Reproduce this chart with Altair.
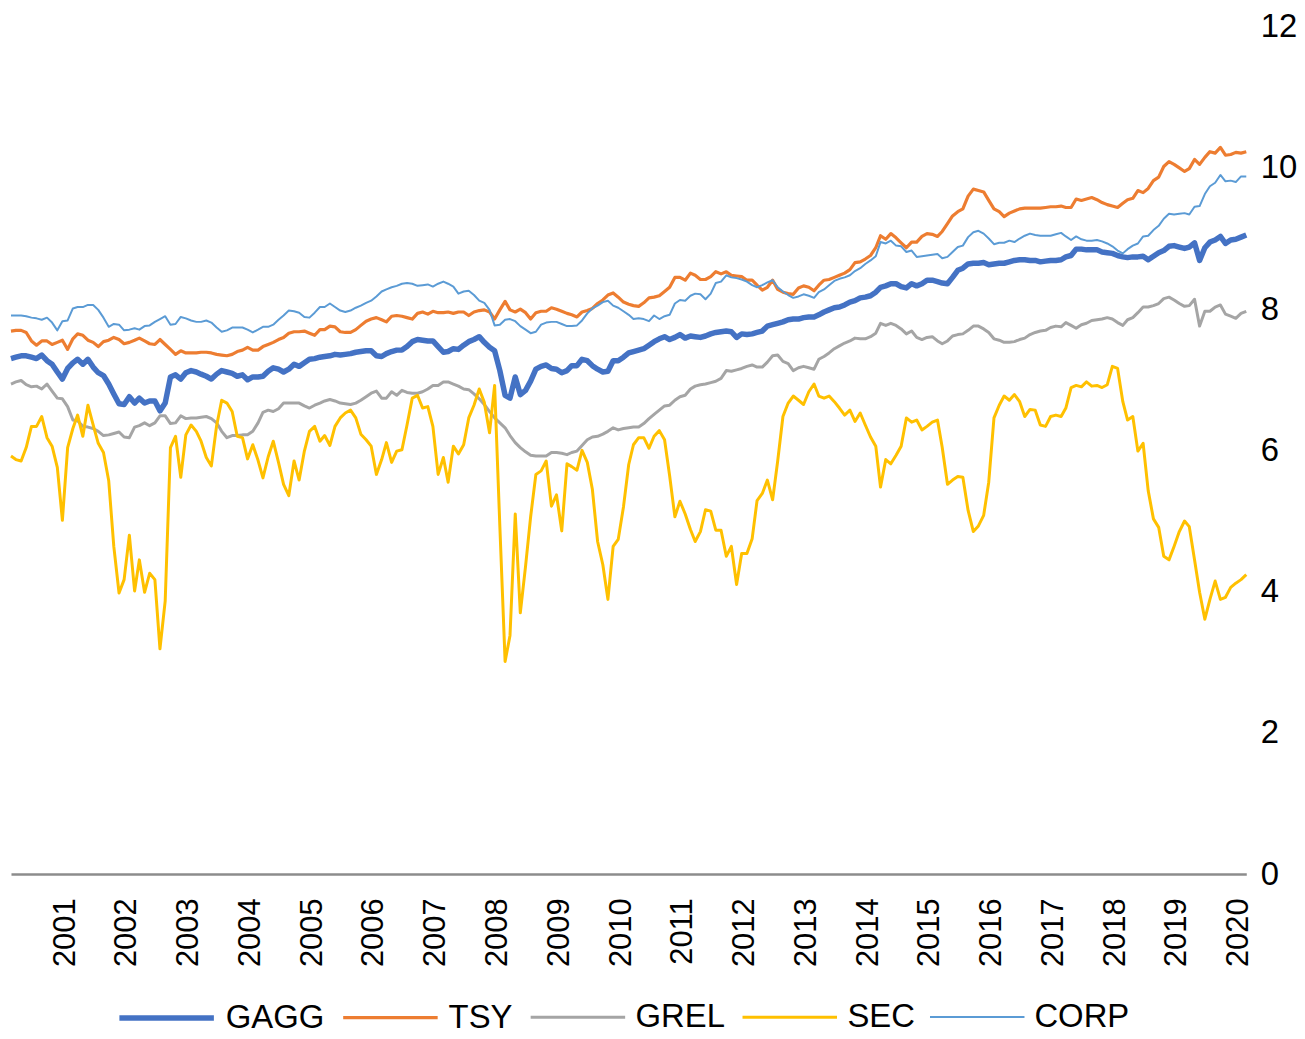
import altair as alt
import pandas as pd

SERIES = ["GAGG", "TSY", "GREL", "SEC", "CORP"]
COLORS = ["#4472C4", "#ED7D31", "#A5A5A5", "#FFC000", "#5B9BD5"]
WIDTHS = [5.5, 3.2, 3.0, 3.0, 2.0]
YEAR_TICKS = list(range(2001, 2021))
Y_TICKS = [0, 2, 4, 6, 8, 10, 12]
FIRST_MONTH = "2000-02-01"  # monthly observations, Feb 2000 .. Feb 2020

GAGG = [
    7.30, 7.32, 7.34, 7.34, 7.32, 7.30, 7.35, 7.27, 7.22, 7.11, 7.01, 7.16,
    7.24, 7.29, 7.22, 7.29, 7.18, 7.10, 7.06, 6.94, 6.80, 6.66, 6.65, 6.76,
    6.67, 6.74, 6.67, 6.70, 6.70, 6.56, 6.67, 7.04, 7.07, 7.01, 7.10, 7.13,
    7.11, 7.08, 7.05, 7.01, 7.08, 7.13, 7.11, 7.09, 7.05, 7.07, 7.00, 7.04,
    7.04, 7.05, 7.12, 7.17, 7.15, 7.11, 7.15, 7.22, 7.19, 7.24, 7.29, 7.30,
    7.32, 7.33, 7.34, 7.36, 7.35, 7.36, 7.37, 7.39, 7.40, 7.41, 7.41, 7.34,
    7.33, 7.37, 7.40, 7.42, 7.42, 7.47, 7.54, 7.57, 7.56, 7.55, 7.55, 7.47,
    7.39, 7.40, 7.44, 7.43, 7.49, 7.54, 7.57, 7.61, 7.53, 7.46, 7.41, 7.13,
    6.78, 6.74, 7.04, 6.79, 6.85, 6.98, 7.15, 7.19, 7.21, 7.16, 7.15, 7.10,
    7.13, 7.20, 7.20, 7.29, 7.27, 7.20, 7.15, 7.11, 7.12, 7.27, 7.27, 7.32,
    7.38, 7.40, 7.42, 7.44, 7.49, 7.54, 7.58, 7.61, 7.57, 7.60, 7.64, 7.59,
    7.62, 7.61, 7.60, 7.62, 7.65, 7.67, 7.68, 7.69, 7.68, 7.60, 7.65, 7.64,
    7.65, 7.67, 7.69, 7.76, 7.78, 7.80, 7.82, 7.85, 7.86, 7.86, 7.88, 7.89,
    7.89, 7.92, 7.96, 7.99, 8.02, 8.03, 8.06, 8.10, 8.12, 8.16, 8.17, 8.19,
    8.24, 8.31, 8.33, 8.36, 8.36, 8.32, 8.30, 8.36, 8.33, 8.36, 8.41, 8.41,
    8.39, 8.37, 8.36, 8.45, 8.55, 8.58, 8.64, 8.65, 8.65, 8.66, 8.63, 8.64,
    8.65, 8.65, 8.67, 8.69, 8.70, 8.70, 8.69, 8.69, 8.67, 8.68, 8.69, 8.69,
    8.70, 8.74, 8.76, 8.85, 8.85, 8.84, 8.84, 8.84, 8.81, 8.80, 8.79, 8.76,
    8.74, 8.73, 8.74, 8.74, 8.75, 8.70, 8.75, 8.80, 8.83, 8.89, 8.90, 8.88,
    8.86, 8.88, 8.94, 8.69, 8.87, 8.95, 8.98, 9.03, 8.93, 8.98, 8.99, 9.02,
    9.05,
]

TSY = [
    7.69, 7.70, 7.70, 7.67, 7.55, 7.49, 7.55, 7.55, 7.50, 7.53, 7.56, 7.43,
    7.58, 7.65, 7.63, 7.56, 7.53, 7.47, 7.54, 7.56, 7.60, 7.57, 7.51, 7.53,
    7.56, 7.59, 7.55, 7.51, 7.50, 7.57, 7.50, 7.43, 7.36, 7.41, 7.38, 7.38,
    7.38, 7.39, 7.39, 7.38, 7.36, 7.35, 7.34, 7.36, 7.40, 7.42, 7.46, 7.42,
    7.42, 7.47, 7.50, 7.53, 7.57, 7.60, 7.66, 7.68, 7.68, 7.69, 7.66, 7.63,
    7.71, 7.71, 7.76, 7.75, 7.68, 7.67, 7.67, 7.71, 7.77, 7.83, 7.86, 7.88,
    7.85, 7.82, 7.90, 7.91, 7.90, 7.88, 7.86, 7.94, 7.96, 7.93, 7.97, 7.95,
    7.95, 7.96, 7.94, 7.96, 7.96, 7.91, 7.96, 7.98, 7.99, 7.96, 7.86, 7.99,
    8.11, 7.99, 7.96, 8.00, 7.95, 7.86, 7.95, 7.97, 7.97, 8.02, 8.00, 7.97,
    7.94, 7.92, 7.89, 7.96, 7.98, 8.01, 8.08, 8.13, 8.20, 8.23, 8.17, 8.10,
    8.07, 8.05, 8.04, 8.09, 8.16, 8.17, 8.19, 8.25, 8.31, 8.45, 8.45, 8.41,
    8.51, 8.48, 8.42, 8.42, 8.46, 8.53, 8.50, 8.53, 8.48, 8.47, 8.46, 8.41,
    8.41, 8.34, 8.27, 8.31, 8.41, 8.28, 8.24, 8.22, 8.21, 8.30, 8.33, 8.31,
    8.26, 8.34, 8.41, 8.42, 8.45, 8.48, 8.51, 8.56, 8.66, 8.67, 8.71, 8.76,
    8.87, 9.04, 8.99, 9.07, 9.01, 8.94, 8.87, 8.95, 8.95, 9.03, 9.07, 9.06,
    9.03, 9.10, 9.21, 9.32, 9.38, 9.42, 9.60, 9.70, 9.68, 9.66, 9.54, 9.42,
    9.38, 9.31, 9.36, 9.39, 9.42, 9.43, 9.43, 9.43, 9.43, 9.44, 9.45, 9.45,
    9.46, 9.44, 9.44, 9.56, 9.54, 9.56, 9.58, 9.55, 9.51, 9.48, 9.46, 9.44,
    9.50, 9.55, 9.57, 9.68, 9.65, 9.71, 9.82, 9.87, 10.02, 10.09, 10.05, 10.00,
    9.95, 9.99, 10.12, 10.05, 10.15, 10.23, 10.21, 10.29, 10.18, 10.19, 10.22, 10.21,
    10.23,
]

GREL = [
    6.94, 6.97, 6.99, 6.93, 6.90, 6.91, 6.87, 6.94, 6.84, 6.74, 6.73, 6.62,
    6.43, 6.42, 6.34, 6.33, 6.31, 6.27, 6.21, 6.22, 6.24, 6.26, 6.19, 6.18,
    6.33, 6.35, 6.39, 6.35, 6.39, 6.49, 6.49, 6.38, 6.39, 6.49, 6.45, 6.46,
    6.46, 6.47, 6.48, 6.45, 6.39, 6.27, 6.18, 6.21, 6.21, 6.22, 6.22, 6.27,
    6.39, 6.54, 6.57, 6.55, 6.59, 6.67, 6.67, 6.67, 6.67, 6.63, 6.60, 6.64,
    6.67, 6.70, 6.72, 6.70, 6.67, 6.66, 6.65, 6.67, 6.71, 6.76, 6.81, 6.84,
    6.74, 6.74, 6.83, 6.78, 6.85, 6.82, 6.81, 6.81, 6.83, 6.87, 6.92, 6.92,
    6.97, 6.97, 6.94, 6.91, 6.87, 6.86, 6.80, 6.73, 6.65, 6.55, 6.46, 6.39,
    6.32, 6.21, 6.11, 6.04, 5.98, 5.93, 5.92, 5.92, 5.92, 5.97, 5.97, 5.96,
    5.94, 5.97, 5.99, 6.07, 6.15, 6.19, 6.20, 6.23, 6.27, 6.32, 6.29, 6.31,
    6.32, 6.33, 6.33, 6.38, 6.45, 6.51, 6.57, 6.63, 6.64, 6.71, 6.76, 6.78,
    6.87, 6.91, 6.93, 6.94, 6.96, 6.98, 7.02, 7.13, 7.12, 7.14, 7.16, 7.19,
    7.21, 7.18, 7.18, 7.25, 7.34, 7.35, 7.26, 7.23, 7.13, 7.17, 7.19, 7.17,
    7.15, 7.29, 7.33, 7.38, 7.44, 7.48, 7.52, 7.55, 7.59, 7.58, 7.58, 7.61,
    7.66, 7.80, 7.77, 7.80, 7.77, 7.72, 7.65, 7.69, 7.60, 7.57, 7.60, 7.61,
    7.55, 7.51, 7.55, 7.62, 7.64, 7.65, 7.70, 7.76, 7.76, 7.72, 7.67, 7.58,
    7.56, 7.53, 7.53, 7.54, 7.57, 7.59, 7.64, 7.67, 7.69, 7.70, 7.74, 7.76,
    7.75, 7.81, 7.77, 7.73, 7.78, 7.80, 7.84, 7.85, 7.86, 7.88, 7.86, 7.81,
    7.77, 7.85, 7.88, 7.95, 8.03, 8.03, 8.05, 8.08, 8.15, 8.17, 8.13, 8.08,
    8.04, 8.05, 8.14, 7.76, 7.97, 7.97, 8.03, 8.06, 7.93, 7.90, 7.87, 7.94,
    7.97,
]

SEC = [
    5.92, 5.87, 5.85, 6.04, 6.34, 6.34, 6.48, 6.18, 6.06, 5.76, 5.01, 6.04,
    6.31, 6.50, 6.20, 6.64, 6.36, 6.10, 5.97, 5.57, 4.64, 3.98, 4.17, 4.80,
    4.01, 4.45, 3.99, 4.26, 4.17, 3.19, 3.87, 6.04, 6.20, 5.62, 6.22, 6.36,
    6.27, 6.13, 5.90, 5.78, 6.35, 6.71, 6.67, 6.55, 6.20, 6.18, 5.88, 6.08,
    5.86, 5.61, 5.91, 6.13, 5.83, 5.52, 5.36, 5.85, 5.58, 5.99, 6.27, 6.34,
    6.13, 6.21, 6.07, 6.34, 6.46, 6.53, 6.57, 6.46, 6.23, 6.15, 6.06, 5.66,
    5.87, 6.11, 5.83, 5.99, 6.01, 6.36, 6.74, 6.78, 6.60, 6.62, 6.34, 5.66,
    5.90, 5.55, 6.06, 5.95, 6.08, 6.46, 6.64, 6.87, 6.68, 6.25, 6.92, 4.92,
    3.01, 3.38, 5.10, 3.70, 4.36, 5.06, 5.66, 5.71, 5.85, 5.21, 5.37, 4.86,
    5.81, 5.77, 5.72, 6.00, 5.83, 5.45, 4.71, 4.38, 3.89, 4.64, 4.74, 5.20,
    5.80, 6.08, 6.18, 6.18, 6.03, 6.20, 6.28, 6.15, 5.64, 5.06, 5.28, 5.10,
    4.88, 4.71, 4.85, 5.16, 5.14, 4.87, 4.87, 4.50, 4.64, 4.10, 4.54, 4.54,
    4.75, 5.29, 5.39, 5.58, 5.30, 5.85, 6.48, 6.67, 6.77, 6.71, 6.65, 6.83,
    6.94, 6.77, 6.74, 6.77, 6.69, 6.60, 6.50, 6.57, 6.41, 6.53, 6.36, 6.19,
    6.06, 5.48, 5.87, 5.81, 5.93, 6.06, 6.46, 6.40, 6.43, 6.29, 6.34, 6.40,
    6.43, 6.04, 5.52, 5.58, 5.63, 5.62, 5.15, 4.85, 4.93, 5.08, 5.55, 6.46,
    6.64, 6.77, 6.71, 6.79, 6.69, 6.48, 6.58, 6.57, 6.36, 6.34, 6.48, 6.50,
    6.48, 6.60, 6.89, 6.92, 6.90, 6.97, 6.91, 6.92, 6.89, 6.93, 7.19, 7.16,
    6.69, 6.43, 6.48, 5.99, 6.10, 5.43, 5.03, 4.91, 4.50, 4.45, 4.64, 4.85,
    5.00, 4.92, 4.45, 3.99, 3.61, 3.89, 4.15, 3.89, 3.92, 4.06, 4.12, 4.17,
    4.24,
]

CORP = [
    7.91, 7.91, 7.91, 7.90, 7.88, 7.87, 7.85, 7.88, 7.81, 7.70, 7.83, 7.84,
    8.01, 8.03, 8.03, 8.06, 8.06, 7.99, 7.88, 7.75, 7.79, 7.78, 7.70, 7.71,
    7.73, 7.71, 7.76, 7.77, 7.82, 7.86, 7.90, 7.78, 7.79, 7.89, 7.87, 7.84,
    7.82, 7.82, 7.84, 7.81, 7.74, 7.68, 7.70, 7.74, 7.74, 7.74, 7.71, 7.67,
    7.71, 7.75, 7.75, 7.78, 7.85, 7.91, 7.98, 7.97, 7.95, 7.89, 7.88, 7.95,
    8.03, 8.03, 8.08, 8.03, 7.98, 7.96, 7.98, 8.02, 8.05, 8.09, 8.12, 8.18,
    8.25, 8.28, 8.31, 8.33, 8.36, 8.37, 8.36, 8.33, 8.34, 8.35, 8.32, 8.36,
    8.39, 8.36, 8.32, 8.22, 8.25, 8.26, 8.20, 8.12, 8.09, 7.99, 7.77, 7.78,
    7.85, 7.86, 7.83, 7.76, 7.71, 7.66, 7.68, 7.78, 7.81, 7.82, 7.82, 7.79,
    7.76, 7.76, 7.77, 7.84, 7.94, 8.01, 8.05, 8.10, 8.12, 8.05, 8.02, 7.97,
    7.92, 7.86, 7.87, 7.86, 7.83, 7.91, 7.86, 7.90, 7.92, 8.08, 8.13, 8.12,
    8.19, 8.22, 8.21, 8.14, 8.22, 8.37, 8.39, 8.48, 8.45, 8.44, 8.42, 8.39,
    8.34, 8.31, 8.34, 8.38, 8.41, 8.31, 8.25, 8.20, 8.16, 8.18, 8.21, 8.19,
    8.16, 8.24, 8.28, 8.34, 8.40, 8.43, 8.45, 8.48, 8.54, 8.58, 8.64, 8.69,
    8.75, 8.95, 8.93, 8.97, 8.90, 8.89, 8.81, 8.83, 8.74, 8.75, 8.76, 8.77,
    8.78, 8.72, 8.74, 8.81, 8.88, 8.90, 9.02, 9.09, 9.11, 9.07, 9.00, 8.92,
    8.94, 8.94, 8.97, 8.95, 9.00, 9.04, 9.07, 9.05, 9.04, 9.04, 9.04, 9.06,
    9.08, 9.03, 8.98, 9.03, 8.99, 8.97, 8.97, 8.98, 8.96, 8.93, 8.89, 8.83,
    8.79, 8.85, 8.90, 8.93, 9.03, 9.04, 9.12, 9.18, 9.28, 9.35, 9.34, 9.35,
    9.36, 9.34, 9.45, 9.46, 9.63, 9.74, 9.79, 9.90, 9.81, 9.82, 9.80, 9.88,
    9.88,
]

VALUES = {"GAGG": GAGG, "TSY": TSY, "GREL": GREL, "SEC": SEC, "CORP": CORP}

dates = pd.date_range(FIRST_MONTH, periods=len(GAGG), freq="MS") + pd.Timedelta(days=14)
date_str = [d.strftime("%Y-%m-%dT00:00:00") for d in dates]

rows = []
for name in SERIES:
    for d, v in zip(date_str, VALUES[name]):
        rows.append({"date": d, "series": name, "value": v})
df = pd.DataFrame(rows)

FONT = "Liberation Sans"

legend = alt.Legend(
    title=None,
    orient="none",
    direction="horizontal",
    legendX=106,
    legendY=946,
    symbolType="stroke",
    symbolSize=9025,
    labelFontSize=33,
    labelFont=FONT,
    labelColor="#000000",
    labelOffset=9,
    columnPadding=11,
)

chart = (
    alt.Chart(df)
    .mark_line(strokeJoin="round")
    .encode(
        x=alt.X(
            "date:T",
            title=None,
            scale=alt.Scale(nice=False, padding=0),
            axis=alt.Axis(
                values=[alt.DateTime(year=y, month=1, date=1) for y in YEAR_TICKS],
                format="%Y",
                labelAngle=270,
                labelFontSize=31,
                labelPadding=24,
                labelOverlap=False,
                labelColor="#000000",
                labelFont=FONT,
                ticks=False,
                grid=False,
                domainColor="#8c8c8c",
                domainWidth=2.5,
            ),
        ),
        y=alt.Y(
            "value:Q",
            title=None,
            scale=alt.Scale(domain=[0, 12], nice=False),
            axis=alt.Axis(
                orient="right",
                values=Y_TICKS,
                labelFontSize=33,
                labelPadding=14,
                labelColor="#000000",
                labelFont=FONT,
                ticks=False,
                grid=False,
                domain=False,
            ),
        ),
        color=alt.Color(
            "series:N",
            scale=alt.Scale(domain=SERIES, range=COLORS),
            legend=legend,
        ),
        strokeWidth=alt.StrokeWidth(
            "series:N",
            scale=alt.Scale(type="ordinal", domain=SERIES, range=WIDTHS),
            legend=legend,
        ),
    )
    .properties(
        width=1242,
        height=852,
        padding={"top": 0, "left": 0, "right": 0, "bottom": 0},
    )
    .configure_view(stroke=None)
)

chart.save("out.html", embed_options={"renderer": "svg", "actions": False})
